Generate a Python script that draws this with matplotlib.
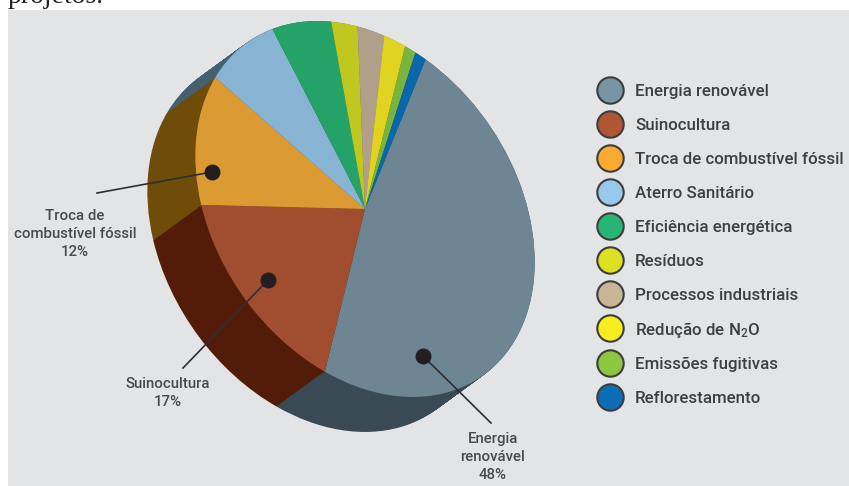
import matplotlib
matplotlib.use("Agg")
import numpy as np
import matplotlib.pyplot as plt
from matplotlib.patches import Rectangle
from matplotlib.transforms import Affine2D

categories = ["Energia renovável", "Suinocultura", "Troca de combustível fóssil",
              "Aterro Sanitário", "Eficiência energética", "Resíduos",
              "Processos industriais", "Redução de N$_2$O", "Emissões fugitivas",
              "Reflorestamento"]
shares = [48, 17, 12, 8, 6, 2.5, 2.5, 2, 1, 1]

top_colors = ["#6e8594", "#a04d30", "#dc9a33", "#88b4d4", "#25a267",
              "#c0c820", "#b0a08a", "#e0d420", "#79b43e", "#0868ab"]
side_colors = ["#3a4a55", "#531c08", "#704c0a", "#456070", "#1c6b45",
               "#7a7f15", "#6f6557", "#8f8815", "#4d7327", "#05436c"]
legend_colors = ["#7895a5", "#b25535", "#fbaa30", "#97c9ec", "#27b573",
                 "#dbe020", "#c8b598", "#f7ec1e", "#8dc63f", "#0a6db5"]

# callouts: text, dot position, end of the leader, text centre
callouts = [("Troca de\ncombustível fóssil\n12%", (212, 172), (97, 193), (75, 234)),
            ("Suinocultura\n17%", (268, 280), (183, 368), (168, 393)),
            ("Energia\nrenovável\n48%", (423, 356), (491, 423), (493, 457))]

# tilted disc: pixel centre, semi axes, rotation, and how far the side drops
CENTER = (365, 209)
SEMI_A, SEMI_B = 204, 150
TILT = -125
START = 64.5
DROP = (-48, 35)

LABEL_FONT = ["Roboto", "DejaVu Sans"]
plt.rcParams["mathtext.fontset"] = "custom"
plt.rcParams["mathtext.rm"] = "Roboto:medium"
plt.rcParams["mathtext.default"] = "rm"


def draw_disc(ax, colors, dx=0, dy=0):
    wedges, _ = ax.pie(shares, colors=colors, startangle=START, counterclock=True,
                       wedgeprops={"linewidth": 0})
    tf = (Affine2D().scale(SEMI_A, SEMI_B).rotate_deg(TILT)
          .translate(CENTER[0] + dx, CENTER[1] + dy))
    for w in wedges:
        w.set_transform(tf + ax.transData)
        w.set_zorder(2)


fig = plt.figure(figsize=(8.49, 4.86), dpi=100)
ax = fig.add_axes([0, 0, 1, 1])

# side first, far end to near end, then the top face over it
for s in np.linspace(1, 0, 50):
    draw_disc(ax, side_colors, DROP[0] * s, DROP[1] * s)
draw_disc(ax, top_colors)

ax.set_aspect("auto")
ax.set_xlim(0, 849)
ax.set_ylim(486, 0)
ax.axis("off")

ax.add_patch(Rectangle((8, 10), 841, 476, facecolor="#e3e4e6", edgecolor="none", zorder=1))
# line of body text cut off by the crop, as in the source page
ax.text(8, 3, "projetos.", family="Liberation Serif", fontsize=20, color="#222222",
        va="baseline", zorder=0)

for label, dot, end, pos in callouts:
    ax.plot([dot[0], end[0]], [dot[1], end[1]], color="#2f2f2f", lw=1.2, zorder=3)
    ax.plot(dot[0], dot[1], "o", ms=11.5, color="#231f20", mew=0, zorder=4)
    ax.text(pos[0], pos[1], label, family=LABEL_FONT, fontweight="medium", fontsize=10.8,
            color="#4a4a4a", ha="center", va="center", linespacing=1.4, zorder=4)

legend_y = 90 + 34.07 * np.arange(len(categories))
for name, col, y in zip(categories, legend_colors, legend_y):
    ax.plot(610, y, "o", ms=19, mfc=col, mec="#3c3c3c", mew=1.5, zorder=4)
    ax.text(635, y + 1.5, name, family=LABEL_FONT, fontweight="medium", fontsize=12.2,
            color="#3f3f3f", va="center", zorder=4)

fig.savefig("out.png", dpi=100)
